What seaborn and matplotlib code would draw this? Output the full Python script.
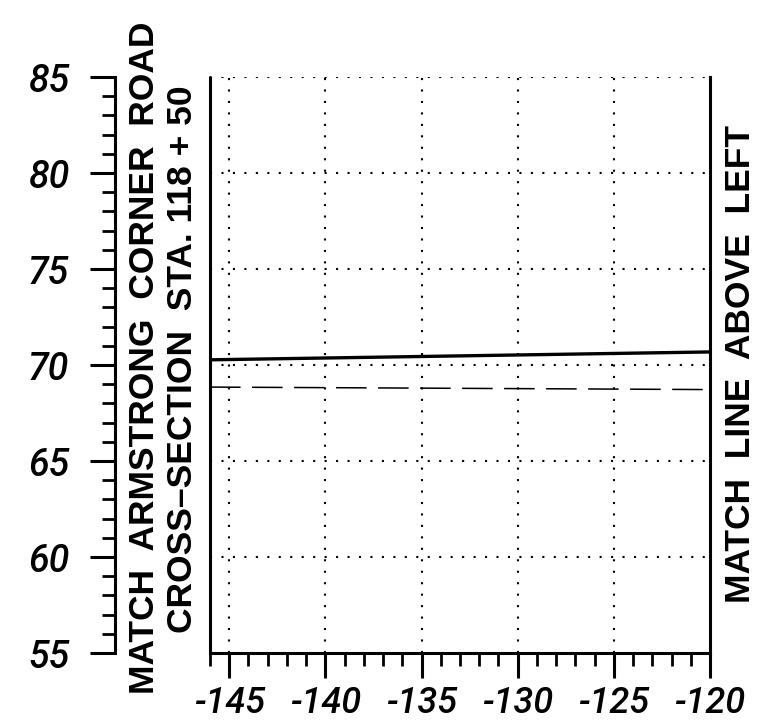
import matplotlib
matplotlib.use("Agg")
import matplotlib.pyplot as plt
import seaborn as sns
import pandas as pd
from matplotlib.ticker import MultipleLocator

# data
x_vals = [-146, -120]
solid_y = [70.27, 70.68]
dashed_y = [68.85, 68.72]
x_ticks = [-145, -140, -135, -130, -125, -120]
y_ticks = [55, 60, 65, 70, 75, 80, 85]

sns.set_theme(style="white")
plt.rcParams['font.family'] = ['Liberation Sans', 'DejaVu Sans']

fig = plt.figure(figsize=(7.58, 7.24), dpi=100)
ax = fig.add_axes([210/758, (724-653)/724, 500/758, (653-77)/724])

df = pd.DataFrame({"x": x_vals + x_vals,
                   "y": solid_y + dashed_y,
                   "s": ["solid"]*2 + ["dashed"]*2})
sns.lineplot(data=df[df.s == "solid"], x="x", y="y", ax=ax, color="black", lw=2.4)
sns.lineplot(data=df[df.s == "dashed"], x="x", y="y", ax=ax, color="black", lw=1.1,
             dashes=False, linestyle=(0, (20, 7.5)))

ax.set_xlim(-146, -120)
ax.set_ylim(55, 85)
ax.set_xlabel("")
ax.set_ylabel("")

# grid
for v in x_ticks[:-1]:
    ax.axvline(v, color="black", lw=1.5, linestyle=(0, (1, 4.5)), zorder=0)
for v in y_ticks[1:]:
    ax.axhline(v, color="black", lw=1.5, linestyle=(0, (1, 4.5)), zorder=0)
ax.axvline(-146, color="black", lw=2.2, clip_on=False)

ax.spines["top"].set_visible(False)
for s in ["left", "bottom", "right"]:
    ax.spines[s].set_visible(True)
    ax.spines[s].set_color("black")
    ax.spines[s].set_linewidth(2.2)
ax.spines["left"].set_position(("outward", 95*0.72))

ax.xaxis.set_minor_locator(MultipleLocator(1))
ax.yaxis.set_minor_locator(MultipleLocator(1))
ax.set_xticks(x_ticks)
ax.set_xticklabels([f"-{abs(v)}" for v in x_ticks])
ax.set_yticks(y_ticks)
ax.set_yticklabels([str(v) for v in y_ticks])

ax.tick_params(axis="both", which="major", direction="out", length=18, width=2.2,
               color="black", labelcolor="black")
ax.tick_params(axis="both", which="minor", direction="out", length=9.5, width=2.0,
               color="black")
ax.tick_params(axis="y", which="major", labelsize=27, pad=15)
ax.tick_params(axis="x", which="major", labelsize=26, pad=6)
ax.tick_params(axis="y", which="both", left=True, right=False)
ax.tick_params(axis="x", which="both", bottom=True, top=False)
for lab in ax.get_xticklabels() + ax.get_yticklabels():
    lab.set_fontstyle("italic")
    lab.set_family(["Roboto", "DejaVu Sans"])
    lab.set_fontweight("medium")

tk = dict(rotation=90, ha="center", va="center", fontweight="bold",
          family="Liberation Sans", fontsize=25.5, color="black")
fig.text(145/758, 1 - 358/724, "MATCH  ARMSTRONG  CORNER  ROAD", **tk)
fig.text(183/758, 1 - 359/724, "CROSS\u2013SECTION  STA. 118 + 50", **tk)
fig.text(741/758, 1 - 364/724, "MATCH  LINE  ABOVE  LEFT", **tk)

fig.savefig("out.png", dpi=100, facecolor="white")
